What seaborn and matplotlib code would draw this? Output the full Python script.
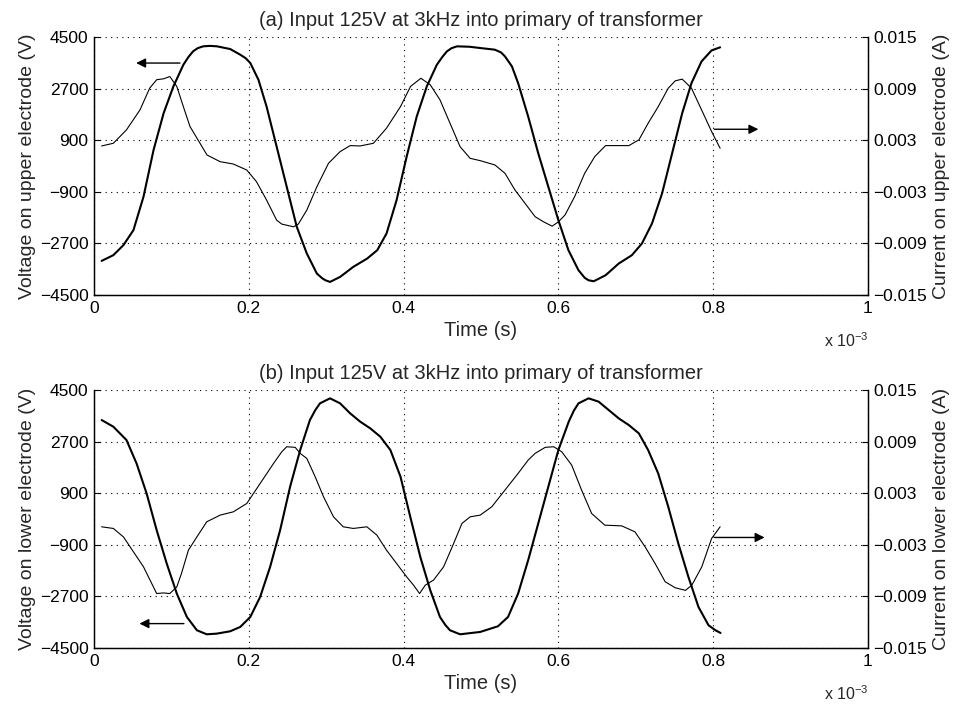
import numpy as np
import matplotlib
matplotlib.use("Agg")
import matplotlib.pyplot as plt
import seaborn as sns

# time in ms (axis shows units of 1e-3 s)
# (a) upper electrode
t_va = [0.0099, 0.025, 0.038, 0.051, 0.064, 0.077, 0.090, 0.1026, 0.1155, 0.122, 0.128,
        0.134, 0.141, 0.150, 0.159, 0.176, 0.189, 0.196, 0.202, 0.2125, 0.223, 0.236, 0.249, 0.262,
        0.275, 0.288, 0.295, 0.299, 0.305, 0.318, 0.335, 0.353, 0.366, 0.378, 0.391,
        0.404, 0.417, 0.430, 0.443, 0.450, 0.456, 0.462, 0.469, 0.485, 0.499, 0.518, 0.526, 0.531, 0.540,
        0.548, 0.561, 0.574, 0.587, 0.600, 0.613, 0.626, 0.634, 0.639, 0.6457, 0.661,
        0.678, 0.695, 0.708, 0.721, 0.734, 0.747, 0.760, 0.772, 0.785, 0.798, 0.809]
volt_a = [-3311, -3112, -2763, -2238, -1072, 560, 1842, 2775, 3532, 3800, 3999,
          4110, 4174, 4190, 4174, 4080, 3882, 3760, 3591, 3008, 2075, 676, -723, -2121,
          -3054, -3754, -3920, -3987, -4045, -3870, -3520, -3229, -2938, -2355, -1189,
          327, 1725, 2775, 3532, 3800, 3999, 4110, 4174, 4160, 4115, 4057, 3960, 3824, 3474,
          2891, 1725, 443, -723, -1889, -2938, -3637, -3900, -3987, -4022, -3812,
          -3404, -3112, -2704, -2005, -956, 443, 1842, 2891, 3649, 4034, 4139]

t_ia = [0.0099, 0.025, 0.042, 0.0595, 0.072, 0.081, 0.090, 0.098, 0.107, 0.1155,
        0.124, 0.137, 0.146, 0.163, 0.180, 0.1974, 0.210, 0.223, 0.236, 0.2427,
        0.2578, 0.264, 0.275, 0.288, 0.303, 0.318, 0.331, 0.344, 0.361, 0.378,
        0.396, 0.409, 0.4224, 0.4345, 0.447, 0.460, 0.473, 0.486, 0.499, 0.518,
        0.531, 0.544, 0.557, 0.570, 0.581, 0.592, 0.600, 0.6086, 0.621, 0.634,
        0.647, 0.661, 0.678, 0.691, 0.704, 0.716, 0.729, 0.742, 0.751, 0.760,
        0.772, 0.785, 0.798, 0.809]
curr_a = [0.00233, 0.00264, 0.0042, 0.00653, 0.00905, 0.01003, 0.01014, 0.0104, 0.00925, 0.0069,
          0.0046, 0.00264, 0.00128, 0.0005, 0.00023, -0.00047, -0.00183, -0.00396, -0.0063, -0.00676,
          -0.00707, -0.00676, -0.00513, -0.00241, 0.00031, 0.00167, 0.00237, 0.00233, 0.00264, 0.0044,
          0.0069, 0.00925, 0.0102, 0.00944, 0.0077, 0.00497, 0.00225, 0.00089, 0.00062, 0.00012,
          -0.00085, -0.0028, -0.00435, -0.0059, -0.0065, -0.007, -0.0065, -0.0057, -0.00357, -0.00085,
          0.00109, 0.00237, 0.00237, 0.00237, 0.00303, 0.00497, 0.0069, 0.00905, 0.0099, 0.0101,
          0.00905, 0.00653, 0.004, 0.00206]

# (b) lower electrode
t_vb = [0.0099, 0.025, 0.042, 0.055, 0.068, 0.081, 0.094, 0.107, 0.120, 0.133,
        0.1457, 0.1586, 0.176, 0.189, 0.202, 0.2147, 0.2276, 0.2405, 0.2534, 0.2664,
        0.279, 0.286, 0.292, 0.305, 0.318, 0.331, 0.344, 0.357, 0.370, 0.383, 0.396,
        0.4086, 0.4216, 0.4345, 0.447, 0.454, 0.460, 0.473, 0.499, 0.522, 0.535, 0.548,
        0.561, 0.574, 0.587, 0.600, 0.6134, 0.620, 0.626, 0.639, 0.652, 0.665, 0.678,
        0.691, 0.704, 0.716, 0.729, 0.742, 0.755, 0.768, 0.781, 0.794, 0.803, 0.8095]
volt_b = [3452, 3220, 2754, 1939, 891, -390, -1554, -2602, -3417, -3883,
          -4023, -4000, -3918, -3766, -3417, -2719, -1671, -390, 1124, 2404,
          3452, 3800, 4034, 4209, 4034, 3685, 3394, 3161, 2870, 2404, 1480,
          83, -1321, -2486, -3417, -3700, -3883, -4023, -3941, -3743, -3417, -2602,
          -1438, -157, 1124, 2404, 3394, 3780, 4034, 4209, 4093, 3802, 3510,
          3277, 2987, 2404, 1589, 425, -856, -2020, -3068, -3708, -3883, -3976]

t_ib = [0.0099, 0.025, 0.038, 0.051, 0.064, 0.0746, 0.081, 0.0897, 0.098, 0.107,
        0.113, 0.122, 0.133, 0.1457, 0.163, 0.180, 0.1974, 0.2147, 0.232, 0.2427,
        0.249, 0.26, 0.2664, 0.275, 0.2858, 0.2966, 0.3095, 0.322, 0.335, 0.3526,
        0.3655, 0.378, 0.391, 0.404, 0.4129, 0.4207, 0.428, 0.4388, 0.4517, 0.4647,
        0.4754, 0.486, 0.499, 0.514, 0.531, 0.548, 0.561, 0.570, 0.583, 0.594,
        0.6043, 0.6172, 0.63, 0.643, 0.660, 0.6819, 0.699, 0.7121, 0.725, 0.738,
        0.751, 0.7642, 0.7724, 0.7853, 0.798, 0.809]
curr_b = [-0.00091, -0.0011, -0.00208, -0.00382, -0.00557, -0.0075, -0.00867, -0.0086, -0.00867, -0.0079,
          -0.00635, -0.00363, -0.00208, -0.00033, 0.00045, 0.00083, 0.0018, 0.00413, 0.00646, 0.00782,
          0.0084, 0.00833, 0.00763, 0.00704, 0.00491, 0.00258, 0.00025, -0.00091, -0.0011, -0.00091,
          -0.00188, -0.00363, -0.00518, -0.00673, -0.0077, -0.00867, -0.0077, -0.0071, -0.00557, -0.00285,
          -0.00052, 0.00025, 0.00045, 0.00142, 0.00336, 0.0053, 0.00685, 0.00763, 0.00833, 0.0084,
          0.00782, 0.00627, 0.00336, 0.00064, -0.00072, -0.0008, -0.0015, -0.00324, -0.00518, -0.0073,
          -0.008, -0.0083, -0.0077, -0.00557, -0.00227, -0.00091]

x_ticks = [0, 0.2, 0.4, 0.6, 0.8, 1]
x_labels = ["0", "0.2", "0.4", "0.6", "0.8", "1"]
v_ticks = [-4500, -2700, -900, 900, 2700, 4500]
v_labels = ["\u22124500", "\u22122700", "\u2212900", "900", "2700", "4500"]
i_ticks = [-0.015, -0.009, -0.003, 0.003, 0.009, 0.015]
i_labels = ["\u22120.015", "\u22120.009", "\u22120.003", "0.003", "0.009", "0.015"]

sns.set_theme(style="white")
plt.rcParams["font.family"] = ["Liberation Sans", "DejaVu Sans"]
plt.rcParams["mathtext.fontset"] = "custom"
plt.rcParams["mathtext.rm"] = "Liberation Sans"

fig = plt.figure(figsize=(9.56, 7.06), dpi=100)

panels = [
    dict(rect=[0.0983, 0.5822, 0.8096, 0.3654], tv=t_va, v=volt_a, ti=t_ia, i=curr_a,
         title="(a) Input 125V at 3kHz into primary of transformer",
         vlab="Voltage on upper electrode (V)", ilab="Current on upper electrode (A)",
         larrow=((0.1147, 3591), (0.0509, 3591)), rarrow=((0.798, 0.00427), (0.862, 0.00427)),
         offy=0.508),
    dict(rect=[0.0983, 0.0822, 0.8096, 0.3654], tv=t_vb, v=volt_b, ti=t_ib, i=curr_b,
         title="(b) Input 125V at 3kHz into primary of transformer",
         vlab="Voltage on lower electrode (V)", ilab="Current on lower electrode (A)",
         larrow=((0.1198, -3650), (0.0552, -3650)), rarrow=((0.798, -0.00215), (0.870, -0.00215)),
         offy=0.008),
]

for p in panels:
    ax = fig.add_axes(p["rect"])
    ax2 = ax.twinx()
    sns.lineplot(x=p["tv"], y=p["v"], ax=ax, color="black", lw=1.5, sort=False)
    sns.lineplot(x=p["ti"], y=p["i"], ax=ax2, color="black", lw=0.8, sort=False)

    ax.set_xlim(0, 1)
    ax.set_ylim(-4500, 4500)
    ax2.set_ylim(-0.015, 0.015)
    ax.set_xticks(x_ticks)
    ax.set_xticklabels(x_labels)
    ax.set_yticks(v_ticks)
    ax.set_yticklabels(v_labels)
    ax2.set_yticks(i_ticks)
    ax2.set_yticklabels(i_labels)

    ax.grid(True, color="black", linestyle=(0, (1, 4)), linewidth=0.8)
    for a in (ax, ax2):
        a.tick_params(direction="in", length=4, width=0.8, colors="black", labelsize=12.5, pad=4)
        a.spines["top"].set_visible(False)
        for s in ("left", "right", "bottom"):
            a.spines[s].set_color("black")
            a.spines[s].set_linewidth(0.9)

    ax.set_title(p["title"], fontsize=14.5, pad=8)
    ax.set_xlabel("Time (s)", fontsize=14.5, labelpad=4)
    ax.set_ylabel(p["vlab"], fontsize=14, labelpad=3)
    ax2.set_ylabel(p["ilab"], fontsize=14, labelpad=4)

    (x0, y0), (x1, y1) = p["larrow"]
    ax.annotate("", xy=(x1, y1), xytext=(x0, y0),
                arrowprops=dict(arrowstyle="-|>", color="black", lw=1, mutation_scale=14))
    (x0, y0), (x1, y1) = p["rarrow"]
    ax2.annotate("", xy=(x1, y1), xytext=(x0, y0),
                 arrowprops=dict(arrowstyle="-|>", color="black", lw=1, mutation_scale=14))

    fig.text(0.862, p["offy"], r"x 10$^{-3}$", fontsize=11.5)

fig.savefig("out.png", dpi=100)
